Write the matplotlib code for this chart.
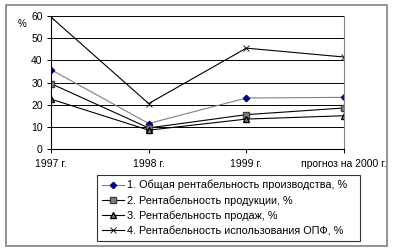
import matplotlib.pyplot as plt
from matplotlib.patches import Rectangle

plt.rcParams['font.family'] = ['Liberation Sans', 'DejaVu Sans']

years = ["1997 г.", "1998 г.", "1999 г.", "прогноз на 2000 г."]
total_prof = [35.8, 11.5, 23.0, 23.3]
product_prof = [29.5, 9.5, 15.5, 18.5]
sales_prof = [22.5, 8.5, 13.5, 15.0]
opf_prof = [59.5, 20.5, 45.5, 41.5]
labels = [
    "1. Общая рентабельность производства, %",
    "2. Рентабельность продукции, %",
    "3. Рентабельность продаж, %",
    "4. Рентабельность использования ОПФ, %",
]

W, H = 395, 249
fig = plt.figure(figsize=(W / 100, H / 100), dpi=100)
ax = fig.add_axes([51 / W, 1 - 149 / H, (344 - 51) / W, (149 - 16) / H])

x = list(range(len(years)))
ax.plot(x, total_prof, color='#808080', lw=0.8, marker='D', ms=3.2,
        mfc='#000080', mec='#000080', label=labels[0])
ax.plot(x, product_prof, color='black', lw=0.8, marker='s', ms=4.5,
        mfc='#808080', mec='#404040', label=labels[1])
ax.plot(x, sales_prof, color='black', lw=0.8, marker='^', ms=4.2,
        mfc='#808080', mec='black', label=labels[2])
ax.plot(x, opf_prof, color='black', lw=0.8, marker='x', ms=4.2,
        mec='black', mew=0.6, label=labels[3])

ax.set_xlim(0, 3)
ax.set_ylim(0, 60)
ax.set_yticks(range(0, 61, 10))
ax.set_xticks(x)
ax.set_xticklabels(years)
ax.yaxis.grid(True, color='black', lw=0.7)
ax.set_axisbelow(True)
ax.tick_params(labelsize=7.5, length=3, width=0.7)
ax.tick_params(axis='x', pad=4)
ax.tick_params(axis='y', pad=3)
ax.spines['right'].set_color('#808080')
for side in ['left', 'bottom']:
    ax.spines[side].set_linewidth(0.8)
ax.spines['top'].set_visible(False)

fig.text(18 / W, 1 - 24 / H, "%", fontsize=7, va='center')

leg = fig.legend(loc='upper left',
                 bbox_to_anchor=(97 / W, 1 - 240 / H, (360 - 97) / W, 65 / H),
                 mode='expand', fontsize=7.8, frameon=True, fancybox=False,
                 edgecolor='black', handlelength=2.0, handletextpad=0.3,
                 labelspacing=0.45, borderpad=0.45, borderaxespad=0)
leg.get_frame().set_linewidth(0.8)

fig.patches.append(Rectangle((6 / W, 1 - 246 / H), (387 - 6) / W, (246 - 5) / H,
                             transform=fig.transFigure, fill=False,
                             edgecolor='#808080', lw=1.2))

fig.savefig("out.png", dpi=100)
